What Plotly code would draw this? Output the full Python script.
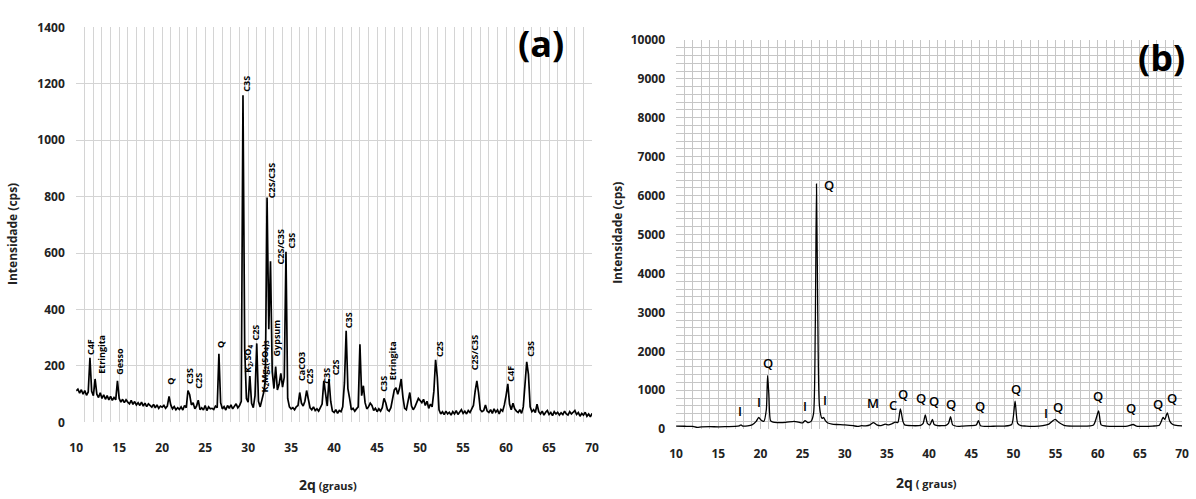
import plotly.graph_objects as go

# ---------------- Panel (a): cement clinker XRD ----------------
two_theta_a = [
    10.0, 10.2, 10.4, 10.6, 10.8, 11.0, 11.2, 11.4, 11.6, 11.8,
    12.0, 12.2, 12.4, 12.6, 12.8, 13.0, 13.2, 13.4, 13.6, 13.8,
    14.0, 14.2, 14.4, 14.6, 14.8, 15.0, 15.2, 15.4, 15.6, 15.8,
    16.0, 16.2, 16.4, 16.6, 16.8, 17.0, 17.2, 17.4, 17.6, 17.8,
    18.0, 18.2, 18.4, 18.6, 18.8, 19.0, 19.2, 19.4, 19.6, 19.8,
    20.0, 20.2, 20.4, 20.6, 20.8, 21.0, 21.2, 21.4, 21.6, 21.8,
    22.0, 22.2, 22.4, 22.6, 22.8, 23.0, 23.2, 23.4, 23.6, 23.8,
    24.0, 24.2, 24.4, 24.6, 24.8, 25.0, 25.2, 25.4, 25.6, 25.8,
    26.0, 26.2, 26.4, 26.6, 26.8, 27.0, 27.2, 27.4, 27.6, 27.8,
    28.0, 28.2, 28.4, 28.6, 28.8, 29.0, 29.2, 29.4, 29.6, 29.8,
    30.0, 30.2, 30.4, 30.6, 30.8, 31.0, 31.2, 31.4, 31.6, 31.8,
    32.0, 32.2, 32.4, 32.6, 32.8, 33.0, 33.2, 33.4, 33.6, 33.8,
    34.0, 34.2, 34.4, 34.6, 34.8, 35.0, 35.2, 35.4, 35.6, 35.8,
    36.0, 36.2, 36.4, 36.6, 36.8, 37.0, 37.2, 37.4, 37.6, 37.8,
    38.0, 38.2, 38.4, 38.6, 38.8, 39.0, 39.2, 39.4, 39.6, 39.8,
    40.0, 40.2, 40.4, 40.6, 40.8, 41.0, 41.2, 41.4, 41.6, 41.8,
    42.0, 42.2, 42.4, 42.6, 42.8, 43.0, 43.2, 43.4, 43.6, 43.8,
    44.0, 44.2, 44.4, 44.6, 44.8, 45.0, 45.2, 45.4, 45.6, 45.8,
    46.0, 46.2, 46.4, 46.6, 46.8, 47.0, 47.2, 47.4, 47.6, 47.8,
    48.0, 48.2, 48.4, 48.6, 48.8, 49.0, 49.2, 49.4, 49.6, 49.8,
    50.0, 50.2, 50.4, 50.6, 50.8, 51.0, 51.2, 51.4, 51.6, 51.8,
    52.0, 52.2, 52.4, 52.6, 52.8, 53.0, 53.2, 53.4, 53.6, 53.8,
    54.0, 54.2, 54.4, 54.6, 54.8, 55.0, 55.2, 55.4, 55.6, 55.8,
    56.0, 56.2, 56.4, 56.6, 56.8, 57.0, 57.2, 57.4, 57.6, 57.8,
    58.0, 58.2, 58.4, 58.6, 58.8, 59.0, 59.2, 59.4, 59.6, 59.8,
    60.0, 60.2, 60.4, 60.6, 60.8, 61.0, 61.2, 61.4, 61.6, 61.8,
    62.0, 62.2, 62.4, 62.6, 62.8, 63.0, 63.2, 63.4, 63.6, 63.8,
    64.0, 64.2, 64.4, 64.6, 64.8, 65.0, 65.2, 65.4, 65.6, 65.8,
    66.0, 66.2, 66.4, 66.6, 66.8, 67.0, 67.2, 67.4, 67.6, 67.8,
    68.0, 68.2, 68.4, 68.6, 68.8, 69.0, 69.2, 69.4, 69.6, 69.8,
    70.0,
]
counts_a = [
    112, 118, 104, 116, 100, 113, 96, 108, 229, 110,
    95, 154, 100, 88, 105, 85, 98, 82, 95, 80,
    92, 78, 88, 80, 147, 85, 72, 82, 70, 80,
    72, 66, 78, 64, 74, 62, 70, 60, 72, 58,
    68, 56, 66, 60, 54, 64, 52, 62, 50, 58,
    54, 60, 50, 58, 92, 62, 48, 56, 45, 52,
    46, 55, 44, 60, 52, 113, 98, 62, 70, 48,
    58, 79, 45, 52, 44, 60, 42, 55, 48, 50,
    46, 58, 52, 243, 70, 48, 56, 44, 60, 50,
    62, 48, 55, 66, 52, 60, 75, 1159, 260, 85,
    72, 164, 68, 52, 95, 280, 75, 55, 80, 105,
    150, 797, 330, 571, 180, 120, 198, 115, 135, 174,
    125, 160, 605, 85, 55, 48, 52, 45, 55, 60,
    106, 68, 58, 75, 113, 75, 52, 45, 55, 42,
    48, 40, 52, 65, 147, 95, 58, 154, 75, 40,
    35, 45, 32, 42, 38, 55, 140, 325, 120, 85,
    45, 50, 40, 48, 55, 277, 95, 130, 70, 48,
    55, 68, 60, 42, 50, 38, 48, 40, 52, 85,
    70, 45, 40, 52, 85, 115, 123, 100, 120, 154,
    90, 50, 45, 70, 106, 58, 45, 55, 72, 85,
    78, 70, 82, 60, 75, 50, 65, 55, 110, 222,
    160, 45, 30, 38, 28, 40, 30, 36, 26, 38,
    30, 42, 28, 36, 45, 32, 40, 30, 42, 35,
    45, 60, 110, 147, 105, 45, 38, 42, 62, 40,
    35, 45, 32, 48, 36, 44, 30, 46, 40, 62,
    95, 137, 65, 45, 68, 48, 40, 35, 45, 32,
    55, 130, 215, 170, 55, 38, 45, 35, 65, 38,
    30, 40, 26, 36, 42, 28, 35, 24, 38, 30,
    36, 26, 34, 28, 40, 30, 26, 38, 30, 36,
    42, 28, 35, 22, 32, 26, 36, 22, 30, 20,
    32,
]

# phase labels for panel (a): text, 2-theta, intensity (label centre)
labels_a_text = ["C4F", "Etringita", "Gesso", "Q", "C3S", "C2S", "Q", "C3S",
                 "K<sub>2</sub>,SO<sub>4</sub>", "C2S",
                 "K<sub>2</sub>Mg<sub>2</sub>(SO<sub>4</sub>)<sub>3</sub>",
                 "C2S/C3S", "Gypsum", "C2S/C3S", "C3S", "CaCO3", "C2S", "C3S", "C2S",
                 "C3S", "C3S", "Etringita", "C2S", "C2S/C3S", "C4F", "C3S"]
labels_a_x = [11.6, 13.0, 15.1, 21.0, 23.1, 24.25, 26.8, 29.85,
              30.0, 30.9, 31.85, 32.65, 33.35, 33.8, 35.05, 36.2, 37.1, 39.15, 40.1,
              41.6, 45.8, 46.8, 52.2, 56.3, 60.5, 62.75]
labels_a_y = [267, 243, 215, 147, 164, 147, 277, 1200,
              226, 318, 198, 858, 301, 623, 643, 198, 164, 165, 195,
              362, 137, 219, 260, 246, 174, 260]

# ---------------- Panel (b): soil / quartz XRD ----------------
two_theta_b = [10.0, 11.0, 12.0, 12.5, 13.0, 14.0, 15.0, 16.0, 17.0, 17.5,
               17.7, 17.9, 18.5, 19.0, 19.5, 19.8, 20.1, 20.4, 20.7, 20.85,
               21.0, 21.2, 21.5, 22.0, 23.0, 24.0, 24.5, 25.0, 25.3, 25.6,
               26.0, 26.3, 26.5, 26.65, 26.8, 27.0, 27.3, 27.5, 27.7, 28.0,
               28.5, 29.0, 30.0, 31.0, 31.5, 32.0, 32.5, 33.0, 33.4, 33.8,
               34.3, 34.8, 35.2, 35.6, 36.0, 36.3, 36.6, 36.9, 37.1, 38.0,
               39.0, 39.3, 39.55, 39.8, 40.1, 40.4, 40.6, 41.0, 42.0, 42.3,
               42.55, 42.8, 43.5, 44.0, 45.0, 45.6, 45.85, 46.1, 47.0, 48.0,
               49.0, 49.8, 50.2, 50.5, 50.9, 51.5, 52.5, 53.5, 54.2, 54.95,
               55.4, 56.0, 57.0, 58.0, 59.5, 60.1, 60.4, 61.0, 62.0, 63.5,
               64.2, 64.6, 65.5, 66.5, 67.3, 67.75, 67.95, 68.25, 68.55, 68.9,
               69.5, 70.0]
counts_b = [80, 75, 70, 45, 60, 65, 60, 65, 70, 85,
            110, 80, 85, 110, 200, 300, 230, 200, 500, 1380,
            900, 220, 180, 170, 175, 200, 180, 160, 220, 170,
            200, 400, 2500, 6300, 3000, 600, 280, 300, 220, 160,
            130, 120, 110, 90, 70, 90, 85, 110, 170, 110,
            90, 130, 110, 140, 180, 170, 520, 200, 110, 90,
            100, 150, 370, 150, 110, 250, 120, 90, 100, 150,
            320, 110, 70, 80, 90, 110, 220, 90, 70, 80,
            80, 120, 720, 150, 90, 80, 70, 90, 130, 250,
            170, 100, 80, 80, 110, 470, 110, 80, 70, 80,
            120, 80, 70, 80, 100, 300, 250, 420, 200, 120,
            90, 85]

labels_b_text = ["I", "I", "Q", "I", "Q", "I", "M", "C", "Q", "Q", "Q", "Q", "Q",
                 "Q", "I", "Q", "Q", "Q", "Q", "Q"]
labels_b_x = [17.6, 19.8, 20.9, 25.3, 28.1, 27.7, 33.4, 35.7, 36.9, 39.1, 40.6, 42.6, 46.0,
              50.3, 53.9, 55.3, 60.0, 64.0, 67.2, 68.8]
labels_b_y = [470, 700, 1690, 600, 6280, 740, 670, 620, 910, 790, 720, 640, 600,
              1040, 420, 570, 840, 550, 640, 790]

FONT = "Open Sans"
W, H = 1196, 499
HIDDEN = "rgba(0,0,0,0)"

fig = go.Figure()
fig.add_trace(go.Scatter(x=two_theta_a, y=counts_a, mode="lines",
                         line=dict(color="black", width=1.7), xaxis="x", yaxis="y",
                         showlegend=False, hoverinfo="skip"))
fig.add_trace(go.Scatter(x=two_theta_b, y=counts_b, mode="lines",
                         line=dict(color="black", width=1.3, shape="spline", smoothing=0.6),
                         xaxis="x2", yaxis="y2", showlegend=False, hoverinfo="skip"))

tickfont = dict(family=FONT, size=12, color="#222", weight="bold")
grid_a = "#d4d4d4"
grid_b = "#c6c6c6"

fig.update_layout(
    width=W, height=H, autosize=False,
    margin=dict(l=0, r=0, t=0, b=0),
    paper_bgcolor="white", plot_bgcolor="white",
    xaxis=dict(domain=[70 / W, 592 / W], range=[10, 70], dtick=5, tick0=10,
               showgrid=True, gridcolor=grid_a, gridwidth=1, zeroline=False,
               minor=dict(dtick=1, showgrid=True, gridcolor=grid_a, gridwidth=1, ticks=""),
               showline=False, ticks="outside", ticklen=14, tickcolor=HIDDEN,
               tickfont=tickfont, anchor="y", fixedrange=True),
    yaxis=dict(domain=[1 - 428 / H, 1 - 19 / H], range=[0, 1400], dtick=200,
               showgrid=True, gridcolor=grid_a, gridwidth=1, zeroline=False,
               showline=False, ticks="outside", ticklen=8, tickcolor=HIDDEN,
               tickfont=tickfont, tickformat="d", anchor="x", fixedrange=True),
    xaxis2=dict(domain=[677 / W, 1189 / W], range=[10, 70], dtick=5, tick0=10,
                showgrid=True, gridcolor=grid_b, gridwidth=1, zeroline=False,
                minor=dict(dtick=1, showgrid=True, gridcolor=grid_b, gridwidth=1, ticks=""),
                showline=False, ticks="outside", ticklen=13, tickcolor=HIDDEN,
                tickfont=tickfont, anchor="y2", fixedrange=True),
    yaxis2=dict(domain=[1 - 435 / H, 1 - 32 / H], range=[0, 10000], dtick=1000,
                showgrid=True, gridcolor=grid_b, gridwidth=1, zeroline=False,
                minor=dict(dtick=200, showgrid=True, gridcolor=grid_b, gridwidth=1, ticks=""),
                showline=False, ticks="", tickfont=tickfont, ticklabelstandoff=10,
                tickformat="d", anchor="x2", fixedrange=True),
)

annotations = []
for t, x, y in zip(labels_a_text, labels_a_x, labels_a_y):
    annotations.append(dict(text=t, x=x, y=y, xref="x", yref="y", showarrow=False,
                            textangle=-90, xanchor="center", yanchor="middle",
                            font=dict(family=FONT, size=9, color="black", weight="bold")))
for t, x, y in zip(labels_b_text, labels_b_x, labels_b_y):
    annotations.append(dict(text=t, x=x, y=y, xref="x2", yref="y2", showarrow=False,
                            xanchor="center", yanchor="middle",
                            font=dict(family=FONT, size=13, color="black", weight=600)))

title_font = dict(family=FONT, size=12, color="#222", weight="bold")
annotations += [
    dict(text="Intensidade (cps)", x=5 / W, y=1 - 233 / H, xref="paper", yref="paper",
         showarrow=False, textangle=-90, xanchor="center", yanchor="middle", font=title_font),
    dict(text="Intensidade (cps)", x=617 / W, y=1 - 232 / H, xref="paper", yref="paper",
         showarrow=False, textangle=-90, xanchor="center", yanchor="middle", font=title_font),
    dict(text="<span style='font-size:14px'>2q</span> (graus)", x=325 / W, y=1 - 492 / H,
         xref="paper", yref="paper", showarrow=False, xanchor="center", yanchor="middle",
         font=dict(family=FONT, size=11, color="#222", weight="bold")),
    dict(text="<span style='font-size:14px'>2q</span> ( graus)", x=930 / W, y=1 - 490 / H,
         xref="paper", yref="paper", showarrow=False, xanchor="center", yanchor="middle",
         font=dict(family=FONT, size=11, color="#222", weight="bold")),
    dict(text="(a)", x=540 / W, y=1 - 36 / H, xref="paper", yref="paper", showarrow=False,
         xanchor="center", yanchor="middle",
         font=dict(family=FONT, size=36, color="black", weight="bold")),
    dict(text="(b)", x=1168 / W, y=1 - 50 / H, xref="paper", yref="paper", showarrow=False,
         xanchor="center", yanchor="middle",
         font=dict(family=FONT, size=36, color="black", weight="bold")),
]
fig.update_layout(annotations=annotations)

# remove the default page margin so the 1196x499 figure fills the window exactly
fig.write_html(
    "out.html",
    config={"displayModeBar": False},
    post_script="document.body.style.margin='0';"
                "document.body.style.overflow='hidden';"
                "document.documentElement.style.overflow='hidden';",
)
